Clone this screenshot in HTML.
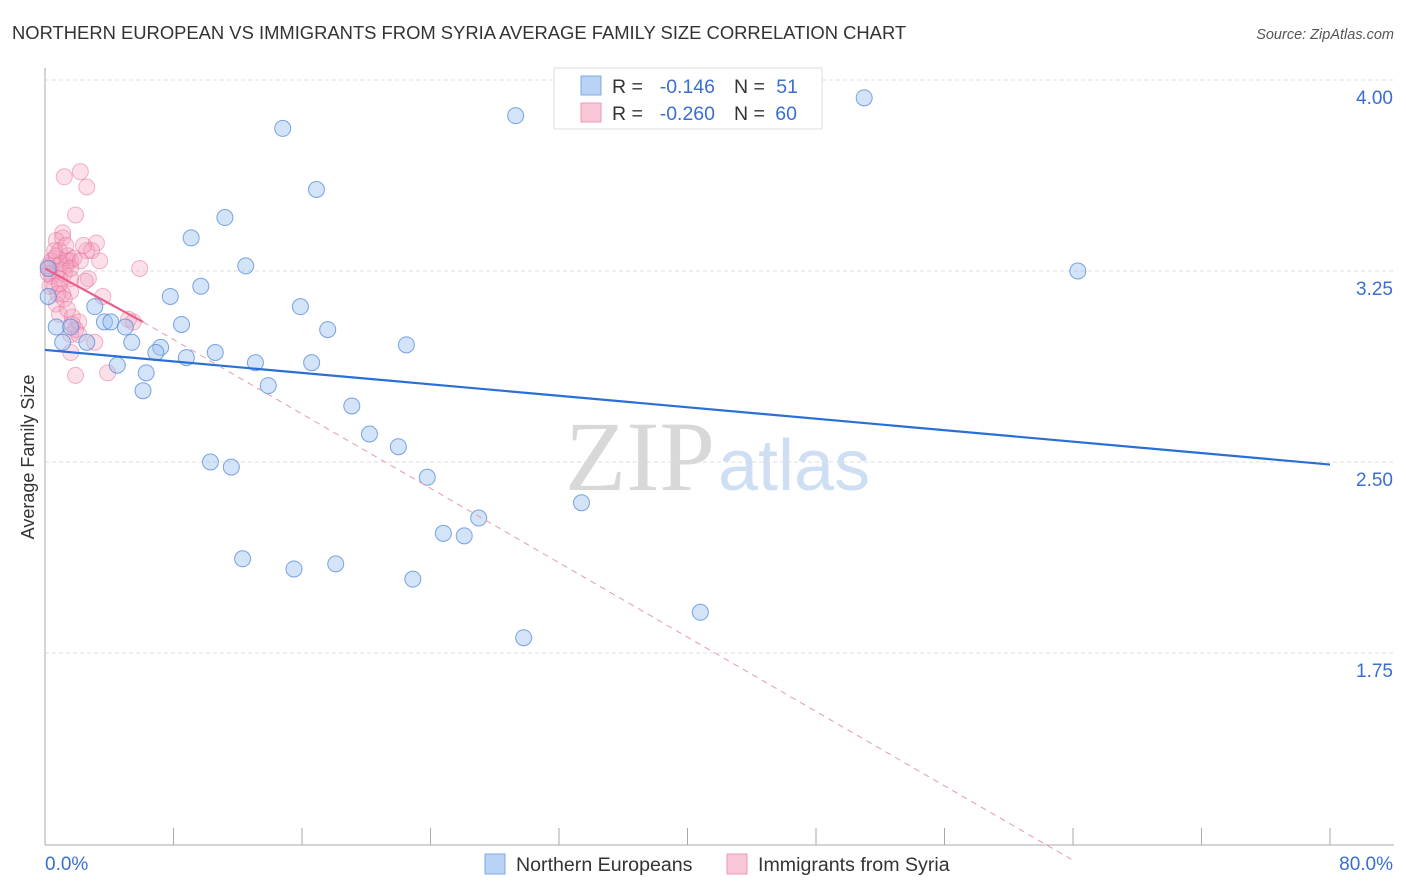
<!DOCTYPE html>
<html><head><meta charset="utf-8"><style>
body{margin:0;background:#fff;font-family:"Liberation Sans",sans-serif}
svg{display:block}
</style></head><body>
<svg id="chart" width="1406" height="892">
<text x="12" y="39" font-size="18.4" fill="#333">NORTHERN EUROPEAN VS IMMIGRANTS FROM SYRIA AVERAGE FAMILY SIZE CORRELATION CHART</text>
<text x="1394" y="39" font-size="14.5" fill="#555" font-style="italic" text-anchor="end">Source: ZipAtlas.com</text>
<text x="715" y="490" font-size="100" font-family="Liberation Serif,serif" fill="#d8d8d8" text-anchor="end">ZIP</text>
<text x="718" y="490" font-size="72" fill="#cfdff3">atlas</text>
<g id="grid"></g><g id="axes"></g><g id="marks"></g>
<g font-size="19.5">
<rect x="554" y="68" width="268" height="61" fill="#fff" stroke="#ddd"/>
<rect x="581" y="76" width="20" height="19" fill="#b8d3f5" stroke="#7fa9e3"/>
<rect x="581" y="103" width="20" height="19" fill="#f9c6d5" stroke="#ee9ab4"/>
<text x="612" y="93" fill="#333">R =</text>
<text x="715" y="93" fill="#3a6fd0" text-anchor="end">-0.146</text>
<text x="734" y="93" fill="#333">N =</text>
<text x="798" y="93" fill="#3a6fd0" text-anchor="end">51</text>
<text x="612" y="120" fill="#333">R =</text>
<text x="715" y="120" fill="#3a6fd0" text-anchor="end">-0.260</text>
<text x="734" y="120" fill="#333">N =</text>
<text x="797" y="120" fill="#3a6fd0" text-anchor="end">60</text>
</g>
<g>
<rect x="485" y="854" width="20" height="20" fill="#b8d3f5" stroke="#7fa9e3"/>
<text x="516" y="871" font-size="19.6" fill="#333">Northern Europeans</text>
<rect x="727" y="854" width="20" height="20" fill="#f9c6d5" stroke="#ee9ab4"/>
<text x="758" y="871" font-size="19.6" fill="#333">Immigrants from Syria</text>
</g>
<text transform="translate(34,457) rotate(-90)" font-size="18" fill="#333" text-anchor="middle">Average Family Size</text>
</svg>
<script>
const yTicks=[4.00,3.25,2.50,1.75];
const yTickLabels=["4.00","3.25","2.50","1.75"];
const xTickLabels=["0.0%","80.0%"];
const blueX=[14.8,29.3,51.0,16.9,11.2,9.1,12.5,64.3,9.7,7.8,15.9,3.1,0.7,3.7,4.1,5.0,8.5,17.6,22.5,5.4,2.6,1.1,7.2,6.9,10.6,8.8,13.1,16.6,4.5,6.3,13.9,6.1,19.1,20.2,22.0,10.3,11.6,23.8,33.4,27.0,24.8,26.1,12.3,18.1,15.5,22.9,40.8,29.8,0.2,0.2,1.6];
const blueY=[3.81,3.86,3.93,3.57,3.46,3.38,3.27,3.25,3.19,3.15,3.11,3.11,3.03,3.05,3.05,3.03,3.04,3.02,2.96,2.97,2.97,2.97,2.95,2.93,2.93,2.91,2.89,2.89,2.88,2.85,2.80,2.78,2.72,2.61,2.56,2.50,2.48,2.44,2.34,2.28,2.22,2.21,2.12,2.10,2.08,2.04,1.91,1.81,3.15,3.26,3.03];
const pinkX=[1.2,2.2,2.6,1.9,1.1,0.7,1.1,3.2,2.6,0.9,0.6,1.4,1.6,0.3,0.8,1.3,0.4,0.9,1.6,2.7,5.9,0.6,1.6,1.1,3.6,0.7,0.9,1.7,2.1,1.9,5.5,5.2,1.6,2.1,3.1,1.6,3.9,1.9,0.2,0.4,0.7,1.2,1.0,0.6,1.4,1.8,2.2,0.3,0.8,1.2,1.4,1.7,0.9,2.9,2.4,1.3,3.4,0.2,2.5,1.6];
const pinkY=[3.62,3.64,3.58,3.47,3.40,3.37,3.38,3.36,3.33,3.33,3.30,3.29,3.29,3.26,3.25,3.27,3.23,3.22,3.22,3.22,3.26,3.19,3.17,3.16,3.15,3.12,3.08,3.07,3.05,3.02,3.05,3.06,3.00,3.00,2.97,2.93,2.85,2.84,3.27,3.29,3.31,3.24,3.28,3.33,3.31,3.30,3.29,3.19,3.16,3.14,3.10,3.04,3.20,3.33,3.35,3.35,3.29,3.24,3.21,3.26];
const blueTrend=[0,2.94,80,2.49];
const pinkTrend=[0,3.26,6.1,3.05,63.9,0.94];
const X0=45,X1=1330,Y4=80,PX=254.67;
const xs=v=>X0+(v/80)*(X1-X0);
const ys=v=>Y4+(4-v)*PX;
const NS="http://www.w3.org/2000/svg";
function mk(t,a,p){const e=document.createElementNS(NS,t);for(const k in a)e.setAttribute(k,a[k]);p.appendChild(e);return e;}
const grid=document.getElementById('grid'),axes=document.getElementById('axes'),marks=document.getElementById('marks');
yTicks.forEach((t,i)=>{
 const l=mk('line',{x1:X0,x2:1394,y1:ys(t),y2:ys(t),stroke:'#ddd','stroke-dasharray':'4,3'},grid);
 
 
 const tx=mk('text',{x:1393,y:ys(t)+24,'font-size':19,fill:'#3a6fd0','text-anchor':'end'},axes);
 tx.textContent=yTickLabels[i];
 
 
});
const ax=mk('line',{x1:X0,x2:X0,y1:68,y2:845,stroke:'#aaa'},axes);


const bx=mk('line',{x1:X0,x2:1394,y1:845,y2:845,stroke:'#aaa'},axes);


for(let i=0;i<=10;i++){
 const t=mk('line',{x1:xs(i*8),x2:xs(i*8),y1:828,y2:845,stroke:'#aaa'},axes);
 
 
}
[[0,'start',45],[80,'end',1393]].forEach((d,i)=>{
 const t=mk('text',{x:d[2],y:870,'font-size':19,fill:'#3a6fd0','text-anchor':d[1]},axes);
 t.textContent=xTickLabels[i];
 
 
});
pinkX.forEach((x,i)=>{
 const c=mk('circle',{cx:xs(x),cy:ys(pinkY[i]),r:8,fill:'rgba(244,160,190,0.32)',stroke:'rgba(232,110,150,0.5)','stroke-width':1},marks);
 
 
});
blueX.forEach((x,i)=>{
 const c=mk('circle',{cx:xs(x),cy:ys(blueY[i]),r:8,fill:'rgba(160,196,240,0.45)',stroke:'rgba(80,135,215,0.75)','stroke-width':1},marks);
 
 
});
const bl=mk('line',{x1:xs(blueTrend[0]),y1:ys(blueTrend[1]),x2:xs(blueTrend[2]),y2:ys(blueTrend[3]),stroke:'#2a6fd6','stroke-width':2.2},marks);


const pl=mk('line',{x1:xs(pinkTrend[0]),y1:ys(pinkTrend[1]),x2:xs(pinkTrend[2]),y2:ys(pinkTrend[3]),stroke:'#e8608a','stroke-width':2.2},marks);


const pd=mk('line',{x1:xs(pinkTrend[2]),y1:ys(pinkTrend[3]),x2:xs(pinkTrend[4]),y2:ys(pinkTrend[5]),stroke:'#e898b0','stroke-width':1,'stroke-dasharray':'6,5'},marks);


</script>
</body></html>
